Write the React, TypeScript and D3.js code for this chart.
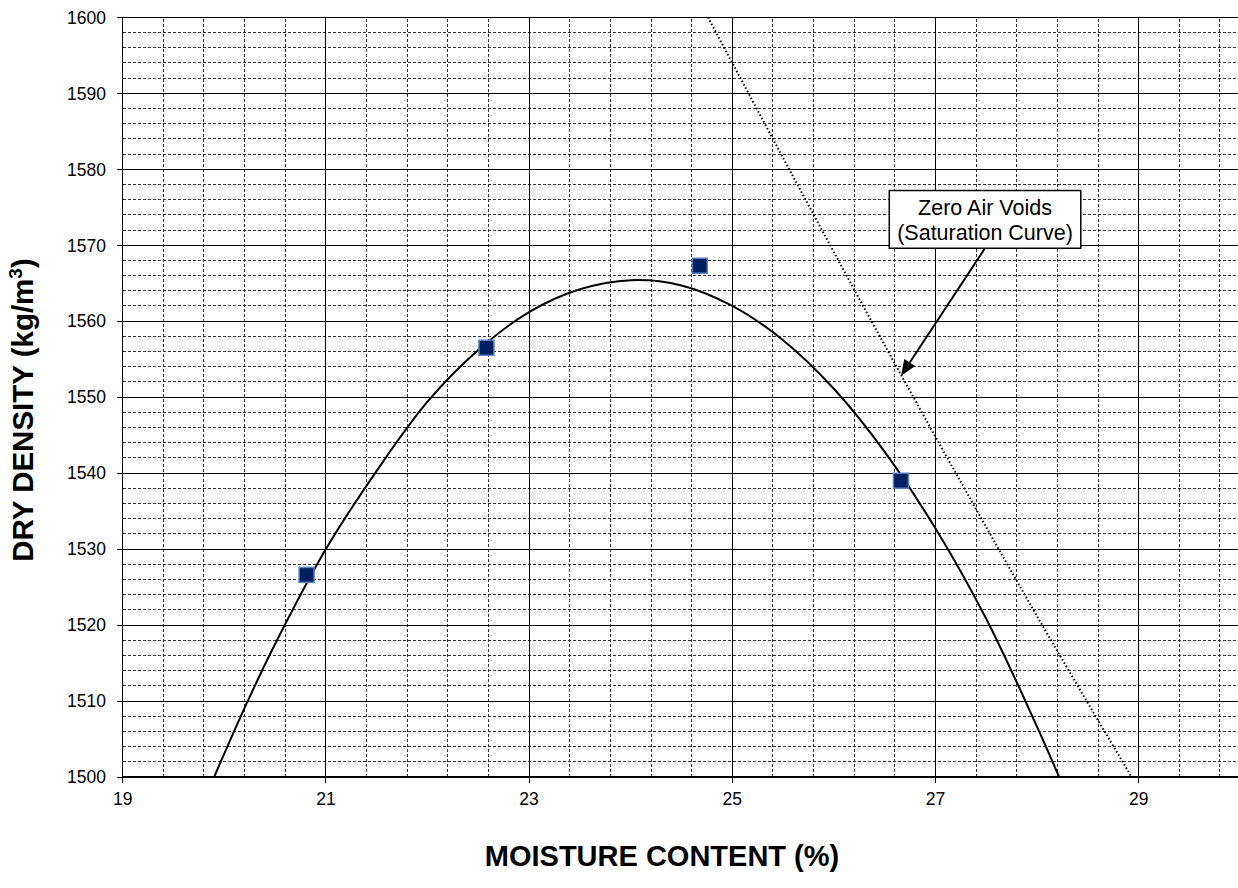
import React from "react";
import * as d3 from "d3";

// Measured compaction points: moisture (%) and dry density (kg/m3)
const pointMoisture = [20.81, 22.58, 24.68, 26.66];
const pointDensity = [1526.6, 1556.5, 1567.3, 1539.0];

// Trendline
const trendMoisture = [19.9, 20.2, 20.5, 21, 21.5, 22, 22.5, 23, 23.5, 24, 24.5, 25, 25.5, 26, 26.5, 27, 27.5, 28, 28.22];
const trendDensity = [1500.0, 1509.1, 1517.5, 1530.0, 1540.3, 1549.4, 1556.2, 1561.2, 1564.2, 1565.4, 1564.7, 1562.0, 1557.5, 1551.1, 1542.8, 1532.7, 1520.8, 1506.6, 1499.9];

// Zero air voids line
const zavMoisture = [24.76, 25.56, 26.37, 27.2, 28.05, 28.93];
const zavDensity = [1600, 1580, 1560, 1540, 1520, 1500];

const xTicks = [19, 21, 23, 25, 27, 29];
const yTicks = [1500, 1510, 1520, 1530, 1540, 1550, 1560, 1570, 1580, 1590, 1600];

const annotationLines = ["Zero Air Voids", "(Saturation Curve)"];
const annotationBox = { x0: 26.545, x1: 28.43, y0: 1577.2, y1: 1569.6 };
const arrowFrom = { x: 27.487, y: 1569.6 };
const arrowTo = { x: 26.66, y: 1552.8 };

const W = 1238;
const H = 888;
const FONT = "'Liberation Sans', Arial, sans-serif";

export default function App() {
  const x = d3.scaleLinear().domain([19, 30]).range([122.7, 1240.3]);
  const y = d3.scaleLinear().domain([1500, 1600]).range([777, 17.3]);

  const minorX = d3.range(19, 30.001, 0.4).map((v) => +v.toFixed(2)).filter((v) => Math.abs((v - 19) / 2 - Math.round((v - 19) / 2)) > 1e-6);
  const minorY = d3.range(1500, 1600.001, 2).filter((v) => v % 10 !== 0);
  const majorX = d3.range(21, 30.001, 2);
  const majorY = d3.range(1510, 1600.001, 10);

  const trend = trendMoisture.map((m, i) => [m, trendDensity[i]] as [number, number]);
  const zav = zavMoisture.map((m, i) => [m, zavDensity[i]] as [number, number]);
  const trendPath = d3.line<[number, number]>().x((d) => x(d[0])).y((d) => y(d[1])).curve(d3.curveCatmullRom)(trend) || "";
  const zavPath = d3.line<[number, number]>().x((d) => x(d[0])).y((d) => y(d[1])).curve(d3.curveCatmullRom)(zav) || "";

  const ax1 = x(arrowFrom.x), ay1 = y(arrowFrom.y), ax2 = x(arrowTo.x), ay2 = y(arrowTo.y);
  const ang = Math.atan2(ay2 - ay1, ax2 - ax1);
  const hl = 16, hw = 6.5;
  const bx = ax2 - hl * Math.cos(ang), by = ay2 - hl * Math.sin(ang);
  const head = [
    [ax2, ay2],
    [bx + hw * Math.sin(ang), by - hw * Math.cos(ang)],
    [bx - hw * Math.sin(ang), by + hw * Math.cos(ang)],
  ];

  const bX0 = x(annotationBox.x0), bX1 = x(annotationBox.x1), bY0 = y(annotationBox.y0), bY1 = y(annotationBox.y1);
  const bCx = (bX0 + bX1) / 2;

  return (
    <svg width={W} height={H} style={{ position: "absolute", left: 0, top: 0, background: "#fff" }} fontFamily={FONT}>
      <rect x={0} y={0} width={W} height={H} fill="#fff" />
      <g shapeRendering="crispEdges">
        {minorX.map((v) => (
          <line key={"mx" + v} x1={x(v)} x2={x(v)} y1={y(1500)} y2={y(1600)} stroke="#333" strokeWidth={1} strokeDasharray="3,2" />
        ))}
        {minorY.map((v) => (
          <line key={"my" + v} x1={x(19)} x2={x(30)} y1={y(v)} y2={y(v)} stroke="#333" strokeWidth={1} strokeDasharray="3,2" />
        ))}
        {majorX.map((v) => (
          <line key={"Mx" + v} x1={x(v)} x2={x(v)} y1={y(1500)} y2={y(1600)} stroke="#000" strokeWidth={1} />
        ))}
        {majorY.map((v) => (
          <line key={"My" + v} x1={x(19)} x2={x(30)} y1={y(v)} y2={y(v)} stroke="#000" strokeWidth={1} />
        ))}
        <line x1={x(19)} x2={x(19)} y1={y(1500)} y2={y(1600)} stroke="#000" strokeWidth={1.3} />
        <line x1={x(19)} x2={x(30)} y1={y(1500)} y2={y(1500)} stroke="#000" strokeWidth={1.3} />
        {yTicks.map((v) => (
          <line key={"yt" + v} x1={x(19) - 6} x2={x(19)} y1={y(v)} y2={y(v)} stroke="#000" />
        ))}
        {xTicks.map((v) => (
          <line key={"xt" + v} x1={x(v)} x2={x(v)} y1={y(1500)} y2={y(1500) + 6} stroke="#000" />
        ))}
      </g>

      <path d={zavPath} fill="none" stroke="#000" strokeWidth={2} strokeDasharray="1.5,2.3" strokeLinecap="butt" />
      <path d={trendPath} fill="none" stroke="#000" strokeWidth={2} />

      {pointMoisture.map((m, i) => (
        <rect key={"p" + i} x={x(m) - 7.5} y={y(pointDensity[i]) - 7.5} width={15} height={15} fill="#002060" stroke="#5b80c4" strokeWidth={1.5} />
      ))}

      <line x1={ax1} y1={ay1} x2={bx} y2={by} stroke="#000" strokeWidth={2} />
      <polygon points={head.map((p) => p.join(",")).join(" ")} fill="#000" />

      <rect x={bX0} y={bY0} width={bX1 - bX0} height={bY1 - bY0} fill="#fff" stroke="#000" strokeWidth={1.5} />
      {annotationLines.map((t, i) => (
        <text key={t} x={bCx} y={bY0 + 24.5 + i * 24.5} textAnchor="middle" fontSize={21.5} fill="#000">
          {t}
        </text>
      ))}

      {yTicks.map((v) => (
        <text key={"yl" + v} x={106} y={y(v)} dy="0.36em" textAnchor="end" fontSize={17.5} fill="#000">
          {v}
        </text>
      ))}
      {xTicks.map((v) => (
        <text key={"xl" + v} x={x(v)} y={805} textAnchor="middle" fontSize={17.5} fill="#000">
          {v}
        </text>
      ))}

      <text x={662} y={866} textAnchor="middle" fontSize={29} fontWeight="bold" fill="#000">
        MOISTURE CONTENT (%)
      </text>
      <text transform={`translate(33,410) rotate(-90)`} textAnchor="middle" fontSize={29.5} fontWeight="bold" fill="#000">
        DRY DENSITY (kg/m<tspan fontSize={19} dy={-11}>3</tspan><tspan dy={11}>)</tspan>
      </text>
    </svg>
  );
}
